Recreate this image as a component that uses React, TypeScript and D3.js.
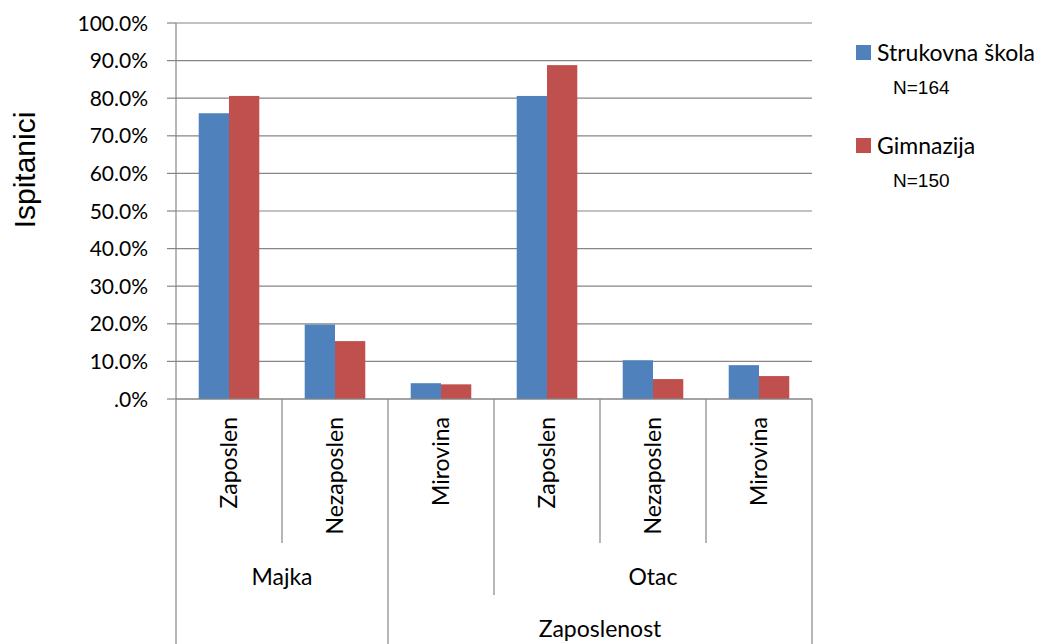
import React from "react";
import * as d3 from "d3";

const categories = ["Zaposlen", "Nezaposlen", "Mirovina", "Zaposlen", "Nezaposlen", "Mirovina"];
const seriesNames = ["Strukovna škola", "Gimnazija"];
const seriesN = ["N=164", "N=150"];
const strukovna = [0.76, 0.198, 0.042, 0.806, 0.103, 0.09];
const gimnazija = [0.806, 0.154, 0.039, 0.888, 0.053, 0.061];
const level2 = [
  { label: "Majka", start: 0, end: 2 },
  { label: "", start: 2, end: 3 },
  { label: "Otac", start: 3, end: 6 },
];
const level3 = [
  { label: "", start: 0, end: 2 },
  { label: "Zaposlenost", start: 2, end: 6 },
];
const yTicks = [0, 0.1, 0.2, 0.3, 0.4, 0.5, 0.6, 0.7, 0.8, 0.9, 1.0];
const colors = ["#4F81BD", "#C0504D"];

const W = 1052;
const H = 644;
const plot = { left: 176, right: 812, top: 23, bottom: 399 };
const rows = { l1: 543, l2: 595, l3: 644 };
const gridColor = "#868686";
const catFont = "Lato, 'Open Sans', sans-serif";

export default function App() {
  const idx = categories.map((_, i) => String(i));
  const x = d3.scaleBand<string>().domain(idx).range([plot.left, plot.right]).padding(0);
  const bw = x.bandwidth();
  const barW = bw / 3.5;
  const xs = d3
    .scaleBand<string>()
    .domain(seriesNames)
    .range([barW * 0.75, barW * 2.75])
    .padding(0);
  const y = d3.scaleLinear().domain([0, 1]).range([plot.bottom, plot.top]);
  const values = [strukovna, gimnazija];
  const fmt = (v: number) => (v === 0 ? ".0%" : d3.format(".1%")(v));

  // boundary depth
  const boundaryY = (i: number) => {
    if (i === 0 || i === categories.length) return rows.l3;
    if (level3.some((g) => g.start === i)) return rows.l3;
    if (level2.some((g) => g.start === i)) return rows.l2;
    return rows.l1;
  };
  const edge = (i: number) => (i < categories.length ? (x(String(i)) as number) : plot.right);

  return (
    <svg width={W} height={H} style={{ position: "absolute", left: 0, top: 0, background: "#fff" }}>
      {/* gridlines */}
      {yTicks.map((t) => (
        <line key={"g" + t} x1={plot.left} x2={plot.right} y1={y(t)} y2={y(t)} stroke={gridColor} strokeWidth={1.2} />
      ))}
      {/* bars */}
      {categories.map((c, i) =>
        seriesNames.map((s, j) => (
          <rect
            key={i + "-" + j}
            x={(x(String(i)) as number) + (xs(s) as number)}
            y={y(values[j][i])}
            width={xs.bandwidth()}
            height={plot.bottom - y(values[j][i])}
            fill={colors[j]}
          />
        ))
      )}
      {/* y axis */}
      <line x1={plot.left} x2={plot.left} y1={plot.top} y2={plot.bottom} stroke={gridColor} strokeWidth={1.2} />
      {yTicks.map((t) => (
        <g key={"t" + t}>
          <line x1={plot.left - 9} x2={plot.left} y1={y(t)} y2={y(t)} stroke={gridColor} strokeWidth={1.2} />
          <text
            x={148}
            y={y(t)}
            dy="0.36em"
            textAnchor="end"
            fontFamily={catFont}
            fontSize={21}
            fill="#000"
          >
            {fmt(t)}
          </text>
        </g>
      ))}
      {/* x axis line */}
      <line x1={plot.left} x2={plot.right} y1={plot.bottom} y2={plot.bottom} stroke={gridColor} strokeWidth={1.2} />
      {/* separators */}
      {d3.range(categories.length + 1).map((i) => (
        <line
          key={"s" + i}
          x1={edge(i)}
          x2={edge(i)}
          y1={plot.bottom}
          y2={boundaryY(i)}
          stroke={gridColor}
          strokeWidth={1.2}
        />
      ))}
      {/* level 1 labels */}
      {categories.map((c, i) => {
        const cx = (x(String(i)) as number) + bw / 2;
        return (
          <text
            key={"c" + i}
            transform={`translate(${cx},${417}) rotate(-90)`}
            dy="0.36em"
            textAnchor="end"
            fontFamily={catFont}
            fontSize={23}
            fill="#000"
          >
            {c}
          </text>
        );
      })}
      {/* level 2 labels */}
      {level2.map((g) => (
        <text
          key={"l2" + g.start}
          x={(edge(g.start) + edge(g.end)) / 2}
          y={585}
          textAnchor="middle"
          fontFamily={catFont}
          fontSize={23}
          fill="#000"
        >
          {g.label}
        </text>
      ))}
      {/* level 3 labels */}
      {level3.map((g) => (
        <text
          key={"l3" + g.start}
          x={(edge(g.start) + edge(g.end)) / 2}
          y={637}
          textAnchor="middle"
          fontFamily={catFont}
          fontSize={23}
          fill="#000"
        >
          {g.label}
        </text>
      ))}
      {/* y axis title */}
      <text
        transform={`translate(35,170) rotate(-90)`}
        textAnchor="middle"
        fontFamily="'Liberation Sans', Arial, sans-serif"
        fontSize={30}
        fill="#000"
      >
        Ispitanici
      </text>
      {/* legend */}
      {seriesNames.map((s, j) => (
        <g key={"lg" + j} transform={`translate(0, ${j * 93})`}>
          <rect x={856} y={45} width={15} height={15} fill={colors[j]} />
          <text x={877} y={61} fontFamily={catFont} fontSize={23} fill="#000">
            {s}
          </text>
          <text x={893} y={94} fontFamily="'Liberation Sans', Arial, sans-serif" fontSize={19} fill="#000">
            {seriesN[j]}
          </text>
        </g>
      ))}
    </svg>
  );
}
